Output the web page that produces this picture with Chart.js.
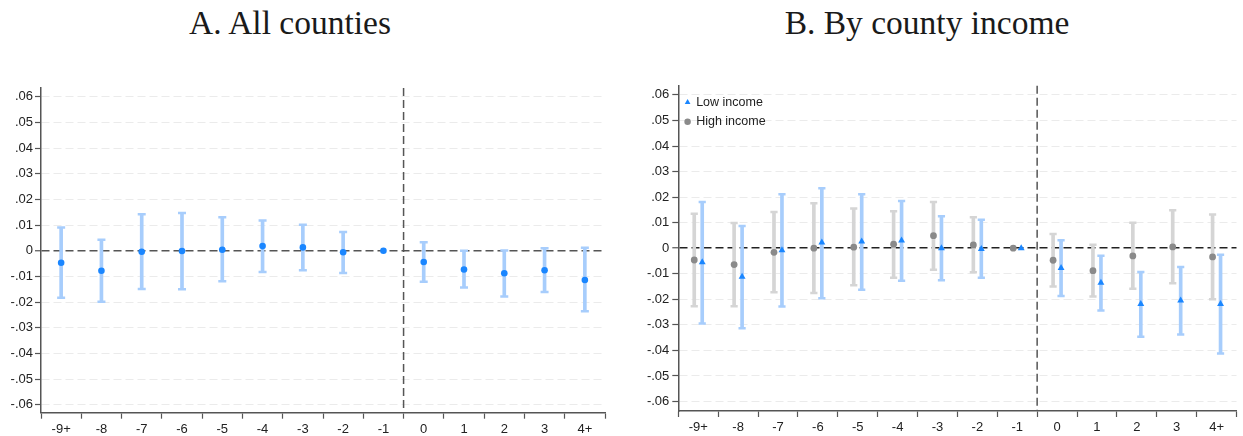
<!DOCTYPE html>
<html>
<head>
<meta charset="utf-8">
<script src="https://cdn.jsdelivr.net/npm/chart.js@4.4.1/dist/chart.umd.min.js"></script>
<style>
html,body{margin:0;padding:0;background:#fff;}
body{width:1243px;height:436px;overflow:hidden;position:relative;}
.title{position:absolute;top:6px;font-family:"Liberation Serif","DejaVu Serif",serif;font-size:33.5px;line-height:1;color:#1a1a1a;white-space:nowrap;transform:translateX(-50%);}
canvas{position:absolute;top:0;}
</style>
</head>
<body>
<div class="title" style="left:290px">A. All counties</div>
<div class="title" style="left:927px">B. By county income</div>
<canvas id="c1" width="618" height="436" style="left:0"></canvas>
<canvas id="c2" width="623" height="436" style="left:620px"></canvas>
<script>
// ---------- data ----------
const categories = ['-9+','-8','-7','-6','-5','-4','-3','-2','-1','0','1','2','3','4+'];
const yTicks = [-0.06,-0.05,-0.04,-0.03,-0.02,-0.01,0,0.01,0.02,0.03,0.04,0.05,0.06];
const eventLine = 8.5;

// Panel A: all counties
const allEst = [-0.0047,-0.0078,-0.0004,-0.0001,0.0004,0.0018,0.0013,-0.0006,0,-0.0044,-0.0073,-0.0088,-0.0076,-0.0114];
const allLo  = [-0.0183,-0.0199,-0.0149,-0.0150,-0.0119,-0.0083,-0.0076,-0.0087,null,-0.0121,-0.0143,-0.0178,-0.0161,-0.0236];
const allHi  = [0.0091,0.0043,0.0142,0.0147,0.0130,0.0118,0.0101,0.0073,null,0.0033,0.0000,0.0001,0.0010,0.0012];

// Panel B: by county income
const lowEst  = [-0.0055,-0.0112,-0.0008,0.0022,0.0026,0.0030,0.0000,-0.0003,0,-0.0077,-0.0135,-0.0218,-0.0205,-0.0218];
const lowLo   = [-0.0295,-0.0313,-0.0228,-0.0196,-0.0163,-0.0127,-0.0125,-0.0116,null,-0.0187,-0.0244,-0.0346,-0.0338,-0.0412];
const lowHi   = [0.0181,0.0087,0.0211,0.0235,0.0211,0.0185,0.0125,0.0111,null,0.0031,-0.0029,-0.0093,-0.0073,-0.0026];
const highEst = [-0.0046,-0.0064,-0.0016,0.0000,0.0004,0.0016,0.0049,0.0013,0,-0.0047,-0.0088,-0.0030,0.0005,-0.0034];
const highLo  = [-0.0227,-0.0227,-0.0172,-0.0175,-0.0145,-0.0116,-0.0084,-0.0094,null,-0.0150,-0.0189,-0.0159,-0.0137,-0.0200];
const highHi  = [0.0135,0.0099,0.0142,0.0176,0.0155,0.0145,0.0181,0.0121,null,0.0056,0.0014,0.0100,0.0149,0.0132];

// ---------- styling ----------
Chart.defaults.font.family = '"Liberation Sans", Arial, sans-serif';
Chart.defaults.font.size = 13;
Chart.defaults.color = '#222';

function fmt(v){
  if (Math.abs(v) < 1e-9) return '0';
  return (v < 0 ? '-' : '') + Math.abs(v).toFixed(2).replace(/^0/, '');
}

function seriesDatasets(est, lo, hi, offset, color, light, pointStyle, radius, capR, label, orderBase){
  const bars = [], caps = [], pts = [];
  est.forEach((e, i) => {
    const x = i + offset;
    pts.push({x, y: e});
    if (lo[i] !== null && hi[i] !== null) {
      bars.push({x, y: [lo[i], hi[i]]});
      caps.push({x, y: lo[i]});
      caps.push({x, y: hi[i]});
    }
  });
  return [
    {type:'bar', label: label + ' CI', data: bars, backgroundColor: light, borderWidth: 0,
     barThickness: 3, grouped: false, order: orderBase + 2},
    {type:'scatter', label: label + ' cap', data: caps, pointStyle: 'line', radius: capR,
     borderWidth: 2.5, borderColor: light, backgroundColor: light, order: orderBase + 1},
    {type:'scatter', label: label, data: pts, pointStyle: pointStyle, radius: radius,
     backgroundColor: color, borderColor: color, borderWidth: 0, order: orderBase}
  ];
}

const eventLinePlugin = {
  id: 'eventLine',
  beforeDatasetsDraw(chart, args, opts){
    const {ctx, chartArea, scales} = chart;
    const px = scales.x.getPixelForValue(opts.value);
    ctx.save();
    ctx.setLineDash([8,4]);
    ctx.strokeStyle = '#555';
    ctx.lineWidth = 1.5;
    ctx.beginPath();
    ctx.moveTo(px, chartArea.top);
    ctx.lineTo(px, chartArea.bottom);
    ctx.stroke();
    ctx.restore();
  }
};

function makeOptions(cfg){
  return {
    responsive: false,
    animation: false,
    events: [],
    layout: {padding: {top: cfg.top, right: cfg.right, left: 0, bottom: 0}},
    plugins: {
      tooltip: {enabled: false},
      eventLine: {value: eventLine},
      legend: cfg.legend ? {
        display: true,
        position: 'chartArea',
        align: 'start',
        title: {display: true, text: '', font: {size: 2}, padding: {top: cfg.top + 1, bottom: 0, left: 0, right: 0}},
        labels: {
          usePointStyle: true,
          boxWidth: 4.6,
          boxHeight: 4.6,
          padding: 7,
          font: {size: 12.5},
          color: '#222',
          filter: (item) => cfg.legend.includes(item.text)
        }
      } : {display: false}
    },
    scales: {
      x: {
        type: 'linear',
        min: -0.5,
        max: categories.length - 0.5,
        offset: false,
        afterBuildTicks: (s) => { s.ticks = categories.map((_, i) => ({value: i})); },
        afterFit: (s) => { s.height = cfg.xh; },
        ticks: {autoSkip: false, maxRotation: 0, padding: 3, color: '#222',
                callback: (v) => categories[Math.round(v)]},
        grid: {display: true, drawOnChartArea: false, drawTicks: true, tickLength: 6,
               tickColor: '#555', tickWidth: 1.2},
        border: {display: true, color: '#555', width: 1.5}
      },
      y: {
        type: 'linear',
        min: cfg.ymin,
        max: cfg.ymax,
        afterBuildTicks: (s) => { s.ticks = yTicks.map(v => ({value: v})); },
        afterFit: (s) => { s.width = cfg.yw; },
        ticks: {padding: cfg.ypad, color: '#222', callback: (v) => fmt(v)},
        grid: {
          color: (c) => (c.tick && Math.abs(c.tick.value) < 1e-9) ? cfg.zeroColor : '#ebebeb',
          lineWidth: (c) => (c.tick && Math.abs(c.tick.value) < 1e-9) ? 1.5 : 1,
          drawTicks: true, tickLength: 6, tickColor: '#555', tickWidth: 1.2,
          borderDash: [8,4]
        },
        border: {display: true, color: '#555', width: 1.5, dash: [8,4]}
      }
    }
  };
}

new Chart(document.getElementById('c1'), {
  type: 'scatter',
  data: {datasets: seriesDatasets(allEst, allLo, allHi, 0, '#1a86ff', '#a7cdfc', 'circle', 3.3, 4, 'All counties', 1)},
  options: makeOptions({top: 88, right: 13, xh: 23.3, yw: 41, ypad: 2, ymin: -0.0631, ymax: 0.0634,
                        zeroColor: '#555', legend: null}),
  plugins: [eventLinePlugin]
});

new Chart(document.getElementById('c2'), {
  type: 'scatter',
  data: {datasets: [
    ...seriesDatasets(lowEst, lowLo, lowHi, 0.1, '#1a86ff', '#a7cdfc', 'triangle', 4, 3.6, 'Low income', 1),
    ...seriesDatasets(highEst, highLo, highHi, -0.1, '#8a8a8a', '#d5d5d5', 'circle', 3.4, 3.6, 'High income', 4)
  ]},
  options: makeOptions({top: 85.7, right: 0.7, xh: 25, yw: 58.3, ypad: 3, ymin: -0.0637, ymax: 0.0636,
                        zeroColor: '#222', legend: ['Low income', 'High income']}),
  plugins: [eventLinePlugin]
});
</script>
</body>
</html>
